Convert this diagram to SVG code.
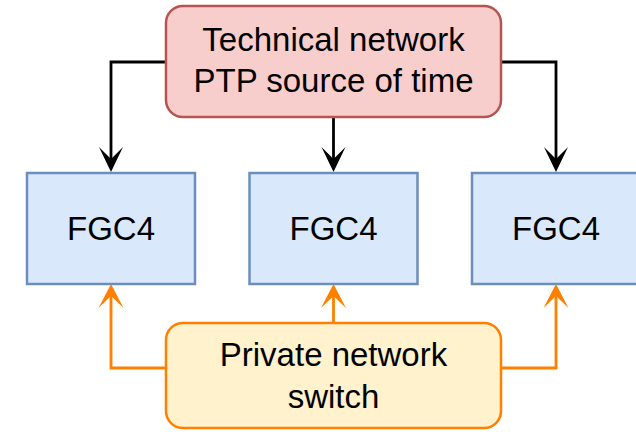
<svg xmlns="http://www.w3.org/2000/svg" width="636" height="432" viewBox="0 0 636 432">
  <style>
    .lbl { font-family: "Liberation Sans", Arial, sans-serif; font-size: 33px; fill: #000000; text-anchor: middle; }
    .src { fill: #f8cecc; stroke: #b85450; stroke-width: 2.5; }
    .fgc { fill: #dae8fc; stroke: #6c8ebf; stroke-width: 2.5; }
    .sw { fill: #fff2cc; stroke: #ff8000; stroke-width: 2.5; }
    .blk { fill: none; stroke: #000000; stroke-width: 2.8; }
    .org { fill: none; stroke: #ff8000; stroke-width: 2.8; }
  </style>
  <defs>
    <marker id="arrB" markerUnits="userSpaceOnUse" markerWidth="26" markerHeight="26" refX="12" refY="12" orient="auto" overflow="visible">
      <path d="M0,0 L25,12 L0,24 L12,12 Z" fill="#000000"/>
    </marker>
    <marker id="arrO" markerUnits="userSpaceOnUse" markerWidth="26" markerHeight="26" refX="12" refY="12.5" orient="auto" overflow="visible">
      <path d="M0,0 L24,12.5 L0,25 L12,12.5 Z" fill="#ff8000"/>
    </marker>
  </defs>
  <g id="connectors">
    <path class="blk" d="M166,62 H111 V159" marker-end="url(#arrB)"/>
    <path class="blk" d="M333.5,117 V159" marker-end="url(#arrB)"/>
    <path class="blk" d="M501,62 H556 V159" marker-end="url(#arrB)"/>
    <path class="org" d="M166,368 H111 V296" marker-end="url(#arrO)"/>
    <path class="org" d="M333.5,323 V296" marker-end="url(#arrO)"/>
    <path class="org" d="M501,368 H556 V296" marker-end="url(#arrO)"/>
  </g>
  <g id="ptp-source">
    <rect class="src" x="166" y="6" width="335" height="111" rx="17" ry="17"/>
    <text class="lbl" x="333.5" y="51">Technical network</text>
    <text class="lbl" x="333.5" y="92">PTP source of time</text>
  </g>
  <g id="fgc4-1">
    <rect class="fgc" x="27" y="173" width="168" height="111"/>
    <text class="lbl" x="111" y="240">FGC4</text>
  </g>
  <g id="fgc4-2">
    <rect class="fgc" x="249.5" y="173" width="168" height="111"/>
    <text class="lbl" x="333.5" y="240">FGC4</text>
  </g>
  <g id="fgc4-3">
    <rect class="fgc" x="472" y="173" width="168" height="111"/>
    <text class="lbl" x="556" y="240">FGC4</text>
  </g>
  <g id="private-switch">
    <rect class="sw" x="166" y="323" width="335" height="105" rx="17" ry="17"/>
    <text class="lbl" x="333.5" y="366">Private network</text>
    <text class="lbl" x="333.5" y="408">switch</text>
  </g>
</svg>
